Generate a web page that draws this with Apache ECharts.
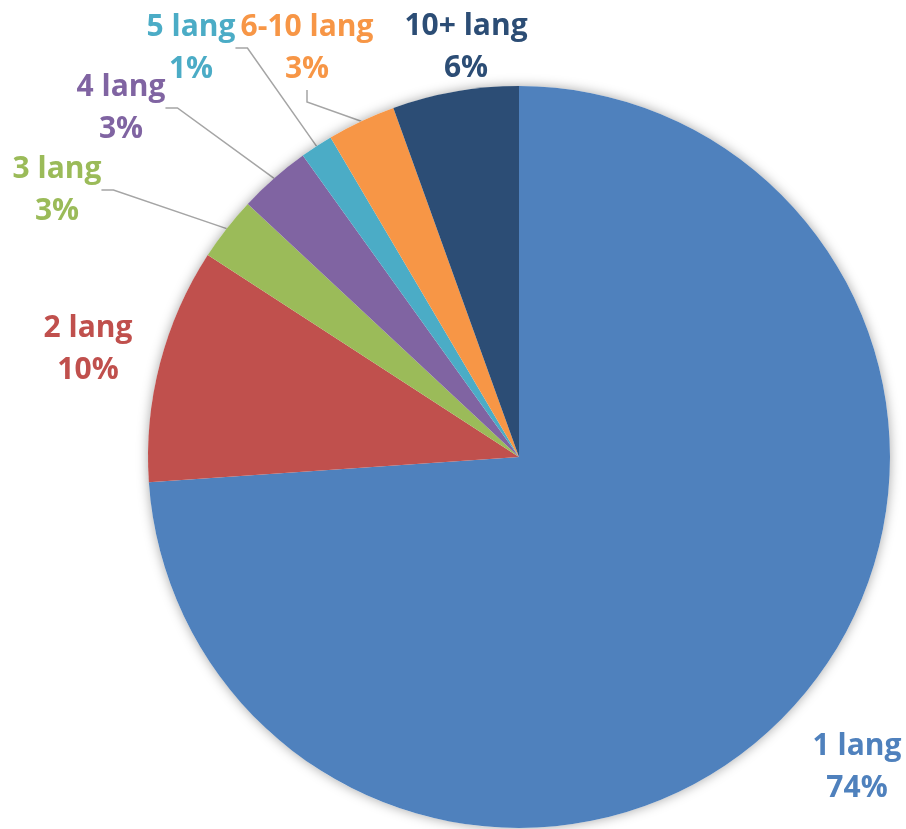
<!DOCTYPE html>
<html>
<head>
<meta charset="utf-8">
<script src="https://cdn.jsdelivr.net/npm/echarts@6/dist/echarts.min.js"></script>
<style>
  html, body { margin: 0; padding: 0; background: #fff; }
  #chart { width: 906px; height: 829px; }
</style>
</head>
<body>
<div id="chart"></div>
<script>
// Share of projects by number of languages (%)
const NAMES = ['1 lang', '2 lang', '3 lang', '4 lang', '5 lang', '6-10 lang', '10+ lang'];
const SHARES = [73.92, 10.24, 2.79, 3.15, 1.42, 2.98, 5.5];

const COLORS = ['#4F81BD', '#C0504D', '#9BBB59', '#8064A2', '#4BACC6', '#F79646', '#2C4D75'];
// where each label block sits (centre), and whether it gets a leader line
const LABEL_POS = [[857, 767], [88, 349], [57, 190], [121, 108], [191, 48], [307, 48], [466, 47]];
const LEADER = [false, false, true, true, true, true, false];

const CENTER = [519, 457];
const RADIUS = 371;

const chart = echarts.init(document.getElementById('chart'), null, { renderer: 'canvas' });

const total = SHARES.reduce((a, b) => a + b, 0);

chart.setOption({
  animation: false,
  backgroundColor: '#fff',
  series: [
    {
      // soft outer shadow behind the pie
      name: 'shadow',
      type: 'pie',
      silent: true,
      center: CENTER,
      radius: RADIUS,
      label: { show: false },
      labelLine: { show: false },
      itemStyle: {
        color: '#fff',
        shadowBlur: 12,
        shadowColor: 'rgba(0,0,0,0.35)',
      },
      data: [{ name: 'all', value: total }],
    },
    {
      name: 'Languages',
      type: 'pie',
      center: CENTER,
      radius: RADIUS,
      startAngle: 90,
      clockwise: true,
      avoidLabelOverlap: false,
      itemStyle: { borderWidth: 0 },
      label: {
        show: true,
        position: 'outside',
        fontFamily: 'Open Sans',
        fontWeight: 'bold',
        fontSize: 30,
        lineHeight: 42,
        formatter: (p) => `${p.name}\n${Math.round(p.value)}%`,
      },
      labelLine: {
        show: true,
        length: 10,
        length2: 12,
        lineStyle: { color: '#A5A5A5', width: 1.5 },
      },
      labelLayout: (p) => ({
        x: LABEL_POS[p.dataIndex][0],
        y: LABEL_POS[p.dataIndex][1],
        align: 'center',
        verticalAlign: 'middle',
      }),
      data: NAMES.map((name, i) => ({
        name,
        value: SHARES[i],
        itemStyle: { color: COLORS[i] },
        label: { color: COLORS[i] },
        labelLine: { show: LEADER[i] },
      })),
    },
  ],
});
</script>
</body>
</html>
